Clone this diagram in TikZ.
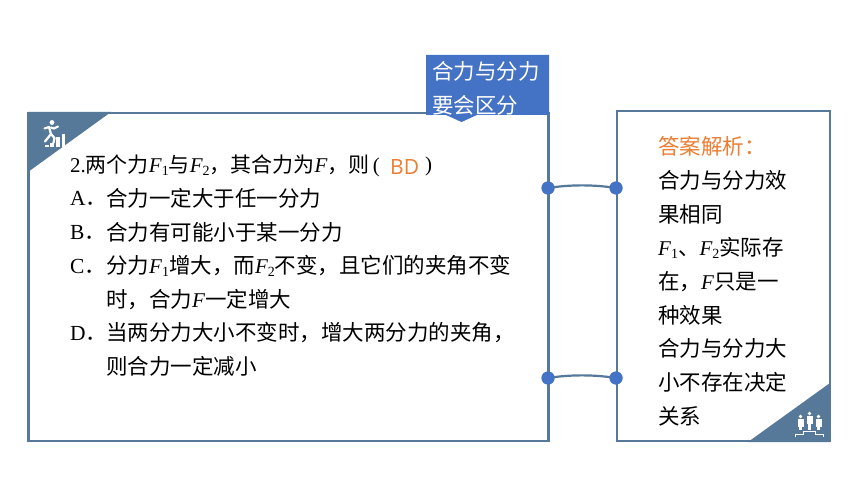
\documentclass[tikz,border=0pt]{standalone}
\usepackage{fontspec}
\setmainfont{Liberation Serif}
\newfontfamily\cjk{Noto Sans CJK SC}
\newfontfamily\lat{Open Sans}
\definecolor{slate}{HTML}{56799A}
\definecolor{royal}{HTML}{4472C4}
\definecolor{tang}{HTML}{ED7D31}
\newcommand{\Fv}[1]{{\fontsize{21}{21}\selectfont\itshape F}\ifx#1x\else\raisebox{-3pt}{\fontsize{14}{14}\selectfont #1}\fi}
\begin{document}
\begin{tikzpicture}[x=1pt,y=-1pt,
  panel/.style={draw=slate,line width=2.8pt,fill=white},
  corner/.style={fill=slate,draw=none},
  ln/.style={anchor=west,inner sep=0pt,text=black,font=\fontsize{21.5}{21.5}\selectfont\cjk},
  rl/.style={anchor=west,inner sep=0pt,text=black,font=\fontsize{21.5}{21.5}\selectfont\cjk},
  dot/.style={circle,fill=royal,draw=none,minimum size=13pt,inner sep=0pt},
  link/.style={draw=slate,line width=2.2pt},
  tag/.style={anchor=west,inner sep=0pt,text=white,font=\fontsize{21.5}{21.5}\selectfont\cjk},
  icon/.style={fill=white,draw=none}]
\useasboundingbox (0,0) rectangle (860,484);
\fill[white] (0,0) rectangle (860,484);
% panels
\draw[panel] (28.7,113) rectangle (548.5,441);
\draw[panel] (617,111) rectangle (830,441);
% corners
\fill[corner] (28,112) -- (111,112) -- (28,172) -- cycle;
\fill[corner] (830,383) -- (830,442) -- (748,442) -- cycle;
% runner icon
\fill[icon] (52,122.5) circle (2.4);
\draw[white,line width=2.2pt,line cap=round,line join=round] (44.5,128.5) -- (49,127) -- (51,134) -- (45,141.5);
\draw[white,line width=2.2pt,line cap=round,line join=round] (51,127.5) -- (54,128.5) -- (58,126.5);
\draw[white,line width=2.2pt,line cap=round,line join=round] (51,134) -- (54.5,138) -- (53.5,143);
\fill[icon] (45,145) rectangle (49,147);
\fill[icon] (50,143) rectangle (54,147);
\fill[icon] (56,137) rectangle (60,147);
\fill[icon] (61.5,134) rectangle (65,147);
% people icon
\foreach \px/\py/\pb in {800.5/416.5/430, 809.5/413.5/430, 818.5/416.5/430}{
  \fill[icon] (\px,\py) circle (1.8);
  \fill[icon] (\px-3,\py+2.5) rectangle (\px+3,\py+10);
  \fill[icon] (\px-1.6,\py+10) rectangle (\px+1.6,\pb);
}
\draw[white,line width=.7pt] (795.5,437) -- (795.5,434) -- (803.5,434) -- (803.5,431.5) -- (815,431.5) -- (815,434) -- (823.5,434) -- (823.5,437);
% tag
\fill[royal] (426,55) -- (549,55) -- (549,115) -- (477,115) -- (461.5,122) -- (446,115) -- (426,115) -- cycle;
\node[tag] (tagA) at (432,71) {合力与分力};
\node[tag] (tagB) at (432,105.5) {要会区分};
% left text
\node[ln,font=\fontsize{21}{21}\selectfont\cjk] (q) at (70,166) {{\rmfamily 2.}两个力{\rmfamily\Fv{1}}与{\rmfamily\Fv{2}}，其合力为{\rmfamily\Fv{x}}，则{\rmfamily\,(}};
\node[anchor=west,inner sep=0pt,text=tang,font=\fontsize{21}{21}\selectfont\lat] (ans) at (390,167) {BD};
\node[anchor=west,inner sep=0pt,font=\fontsize{21}{21}\selectfont\rmfamily] (cl) at (425,166) {)};
\node[ln] (a1) at (70,198.5) {{\rmfamily A}．};
\node[ln] (a2) at (106,198.5) {合力一定大于任一分力};
\node[ln] (b1) at (70,232.5) {{\rmfamily B}．};
\node[ln] (b2) at (106,232.5) {合力有可能小于某一分力};
\node[ln] (c1) at (70,266) {{\rmfamily C}．};
\node[ln] (c2) at (106,266) {分力{\rmfamily\Fv{1}}增大，而{\rmfamily\Fv{2}}不变，且它们的夹角不变};
\node[ln] (c3) at (106,299.5) {时，合力{\rmfamily\Fv{x}}一定增大};
\node[ln] (d1) at (70,333) {{\rmfamily D}．};
\node[ln] (d2) at (106,333) {当两分力大小不变时，增大两分力的夹角，};
\node[ln] (d3) at (106,366.5) {则合力一定减小};
% right text
\node[rl,text=tang] (r0) at (658,146.5) {答案解析：};
\node[rl] (r1) at (658,180) {合力与分力效};
\node[rl] (r2) at (658,214) {果相同};
\node[rl] (r3) at (658,248) {{\rmfamily\Fv{1}}、{\rmfamily\Fv{2}}实际存};
\node[rl] (r4) at (658,281.5) {在，{\rmfamily\Fv{x}}只是一};
\node[rl] (r5) at (658,315) {种效果};
\node[rl] (r6) at (658,348.5) {合力与分力大};
\node[rl] (r7) at (658,382) {小不存在决定};
\node[rl] (r8) at (658,416) {关系};
% connectors
\node[dot] (p1) at (548,188) {};
\node[dot] (p2) at (616,188) {};
\node[dot] (p3) at (548,378) {};
\node[dot] (p4) at (616,378) {};
\draw[link] (p1.center) .. controls (570,184.5) and (594,184.5) .. (p2.center);
\draw[link] (p3.center) .. controls (570,374.5) and (594,374.5) .. (p4.center);
\node[dot] at (p1) {};
\node[dot] at (p2) {};
\node[dot] at (p3) {};
\node[dot] at (p4) {};
\end{tikzpicture}
\end{document}
